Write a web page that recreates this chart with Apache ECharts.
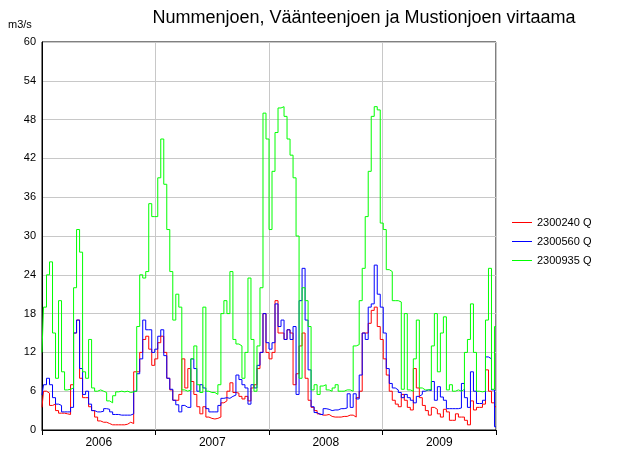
<!DOCTYPE html>
<html><head><meta charset="utf-8">
<script src="https://cdn.jsdelivr.net/npm/echarts@6/dist/echarts.min.js"></script>
<style>html,body{margin:0;padding:0;background:#fff}#c{width:636px;height:476px}</style>
</head><body><div id="c"></div>
<script>
const titleText = 'Nummenjoen, Väänteenjoen ja Mustionjoen virtaama';
const unitLabel = 'm3/s';
const years = ['2006', '2007', '2008', '2009'];
const seriesNames = ['2300240 Q', '2300560 Q', '2300935 Q'];
const yTicks = [0, 6, 12, 18, 24, 30, 36, 42, 48, 54, 60];

// ~9.6-day samples, 38 per year
const red2006 = [3.5,6,5.7,3.8,4,3,2.6,2.6,2.5,2.4,7,15,17,8,5,5,3.6,3,2,1.4,1.2,1.2,1,0.8,0.8,0.8,0.8,0.8,0.9,1.2,1,9,9,12,14,14.5,12.5,10];
const red2007 = [11,13.5,14.5,12,8,6.2,4.6,4.6,5.5,11,6.5,9.5,7.5,5.5,3.6,2.5,3.6,2,1.8,1.7,1.8,2,4.2,4.5,6,7.3,5.8,5.7,5.2,4.8,5.2,4.5,6.5,7,9.5,12,18,12];
const red2008 = [11,12,20,15,15,14,15.5,15,7,8.7,13,15,8,4.6,3.5,3,2.5,2.3,2.3,2.4,2.1,2,2,2,2.1,2.1,2.3,2.3,2,5,6,15,15,16.5,18.5,19,16,14];
const red2009 = [11,8.5,6,4.6,4,3.6,5.5,4.6,3.5,3.1,9.5,6.5,5,3.8,3,2.3,3.5,3.2,2.5,2,3.2,2.8,1.5,1.5,2.5,2,2,1.5,0.8,4.5,3.1,3.5,3.5,4,9.3,6,4.2,3.6];

const blue2006 = [5.4,7,8,7,5,4,3.8,2.8,2.8,2.8,3.5,15,17,9.5,5.5,6,4,3,2.8,2.8,2.9,3.3,3.2,2.8,2.4,2.4,2.3,2.3,2.3,2.3,2.5,6,8.7,11,17,15.5,15.5,12];
const blue2007 = [12.5,14.5,15.5,11.5,8,6.3,4.6,3.9,2.8,3.8,3.5,3.5,11,9.5,6,7,6.5,3.3,2.8,2.8,2.8,3.8,4.9,5,4.9,5.2,5.4,8.5,7.8,7,6.5,4,7,6.5,10,12,18,13.5];
const blue2008 = [12.5,13.5,19.5,16,17,14,15.5,14,16,5.5,20,25,17,9.3,3.6,2.7,2.4,2.4,3.3,3.2,3,3.1,3.1,3.3,3.3,3.4,5.6,3.5,5.6,4.8,8.5,15,14,19,19.5,25.5,21,19];
const blue2009 = [15,9.5,7.2,6.5,6.2,5.8,5,5.5,5,4.6,4.2,5.2,5.5,6,6.2,6.1,7.5,4.6,6.7,5.1,4.6,3.3,3.3,3.3,3.3,3.4,7.2,5,3.5,9,6,4.1,4.1,4.6,11.3,11,6.2,0.5];

const green2006 = [12,19,24,26,15,8,20,9,6.2,6.3,6.5,22,31,27.5,9,8,14,6.5,6,6.2,6,5.8,4.5,4.2,5.3,5.9,6,5.9,6,5.8,5.9,6,16,24,23.5,24.5,35,33];
const green2007 = [33,39,45,38,31,24.5,17,21,19,6.2,6,6.2,11,13,7,5.8,19,6,5.8,5.8,5.5,7,18,20,18,24.5,14,13.3,13,8,12,23.5,14,6,13,22,49,45];
const green2008 = [31,40,46,49.8,50,48.5,45,42.5,39,30,8,22,20,16,6.2,7,5.5,6.8,7,6.2,6,6.5,7,6,6,6.2,6.2,6,13,13.2,20,25,33,40,48.5,50,49.5,32];
const green2009 = [31,24.8,24.5,20,20,19.8,6.3,18,6.2,6,11,17,6.5,6.2,6.2,6.3,13,18,9,15,17.5,6.2,7,6,6.2,6,6.3,12,14,19.5,12,6,5.9,6,17,25,6.3,16];

const redQ = [].concat(red2006, red2007, red2008, red2009);
const blueQ = [].concat(blue2006, blue2007, blue2008, blue2009);
const greenQ = [].concat(green2006, green2007, green2008, green2009);
const N = redQ.length;
const pairs = arr => arr.map((v, i) => [i, v]);

const font = '"Liberation Sans", Arial, sans-serif';
const chart = echarts.init(document.getElementById('c'));
const mk = (name, data, color) => ({
  name, type: 'line', xAxisIndex: 1, data: pairs(data), symbol: 'none', step: 'middle',
  lineStyle: { color, width: 1 }, itemStyle: { color }, animation: false
});
chart.setOption({
  animation: false,
  title: { text: titleText, left: 359, top: 4, textAlign: 'center',
    textStyle: { fontFamily: font, fontSize: 18, fontWeight: 'normal', color: '#000' } },
  graphic: [{ type: 'text', left: 8, top: 19, style: { text: unitLabel, font: '11px ' + font, fill: '#000' } }],
  legend: { orient: 'vertical', left: 507, top: 212, icon: 'rect', itemWidth: 20, itemHeight: 1, itemGap: 8,
    textStyle: { fontFamily: font, fontSize: 11, color: '#000' }, data: seriesNames },
  grid: { left: 42, right: 140, top: 42, bottom: 46, show: true, borderColor: '#000', borderWidth: 1, containLabel: false },
  xAxis: [
    { type: 'category', data: years, boundaryGap: true, position: 'bottom',
      axisLine: { lineStyle: { color: '#000' } },
      axisTick: { show: true, length: 5, lineStyle: { color: '#000' } },
      axisLabel: { fontFamily: font, fontSize: 12, color: '#000', margin: 7 },
      splitLine: { show: true, lineStyle: { color: '#c8c8c8' } } },
    { type: 'value', min: 0, max: N - 1, show: false }
  ],
  yAxis: { type: 'value', min: yTicks[0], max: yTicks[yTicks.length - 1], interval: 6,
    axisLine: { show: true, lineStyle: { color: '#000' } }, axisTick: { show: false },
    axisLabel: { fontFamily: font, fontSize: 11, color: '#000', margin: 6 },
    splitLine: { lineStyle: { color: '#c8c8c8' } } },
  series: [
    mk(seriesNames[0], redQ, '#ff0000'),
    mk(seriesNames[1], blueQ, '#0000ff'),
    mk(seriesNames[2], greenQ, '#00ff00')
  ]
});
</script></body></html>
